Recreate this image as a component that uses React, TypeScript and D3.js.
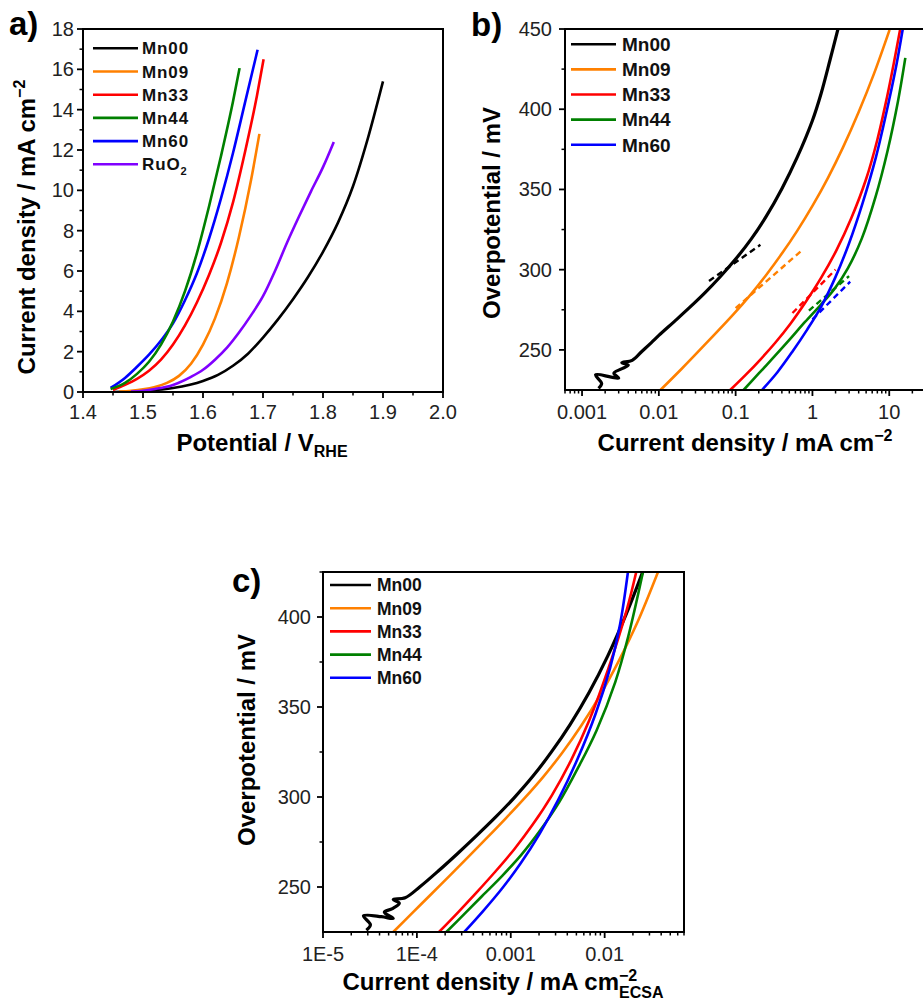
import React from 'react';
import * as d3 from 'd3';

type Pt = [number, number];

// ---------- Panel a: LSV curves (potential / V_RHE, current density / mA cm^-2)
const lsvMn00: Pt[] = [[1.45,0],[1.50,0.05],[1.55,0.2],[1.60,0.55],[1.625,0.85],[1.65,1.3],[1.675,1.9],[1.70,2.7],[1.725,3.6],[1.75,4.6],[1.775,5.7],[1.80,6.95],[1.825,8.4],[1.85,10.2],[1.875,12.6],[1.90,15.4]];
const lsvMn09: Pt[] = [[1.46,0.02],[1.48,0.06],[1.50,0.13],[1.52,0.25],[1.54,0.45],[1.56,0.8],[1.58,1.4],[1.60,2.35],[1.62,3.65],[1.64,5.4],[1.66,7.7],[1.68,10.5],[1.694,12.8]];
const lsvMn33: Pt[] = [[1.45,0.1],[1.47,0.35],[1.49,0.65],[1.51,1.05],[1.53,1.6],[1.55,2.35],[1.57,3.3],[1.59,4.45],[1.61,5.8],[1.63,7.4],[1.65,9.4],[1.67,11.9],[1.69,14.7],[1.701,16.5]];
const lsvMn44: Pt[] = [[1.446,0.15],[1.47,0.45],[1.49,0.9],[1.51,1.5],[1.53,2.35],[1.55,3.5],[1.57,5.0],[1.59,6.9],[1.61,9.2],[1.63,11.7],[1.65,14.4],[1.661,16.06]];
const lsvMn60: Pt[] = [[1.446,0.2],[1.47,0.7],[1.49,1.25],[1.51,1.85],[1.53,2.55],[1.55,3.4],[1.57,4.55],[1.59,5.9],[1.61,7.6],[1.63,9.6],[1.65,11.85],[1.67,14.35],[1.691,16.97]];
const lsvRuO2: Pt[] = [[1.48,0.02],[1.50,0.06],[1.52,0.15],[1.55,0.35],[1.58,0.75],[1.60,1.1],[1.62,1.6],[1.64,2.2],[1.66,2.95],[1.68,3.8],[1.70,4.75],[1.72,6.0],[1.74,7.4],[1.76,8.7],[1.78,9.95],[1.80,11.15],[1.818,12.4]];

// ---------- Panel b: Tafel plots (current density / mA cm^-2, overpotential / mV)
const tafelMn00: Pt[] = [[0.00164,226],[0.0018,229],[0.0015,234.5],[0.0024,233],[0.003,232.5],[0.0026,235.5],[0.0032,238],[0.004,240.5],[0.0033,242],[0.0045,243.5],[0.006,249],[0.008,254.5],[0.01,259],[0.016,267.8],[0.025,276.3],[0.04,285.7],[0.063,295.6],[0.1,306.6],[0.16,319.2],[0.25,333.2],[0.4,350.5],[0.63,369.8],[1.0,393],[1.3,410],[1.7,431],[2.15,450]];
const tafelMn09: Pt[] = [[0.0105,225],[0.02,238.4],[0.04,253.4],[0.094,272.3],[0.15,283.4],[0.25,296.7],[0.4,310],[0.63,324],[1.0,339.7],[1.6,357.4],[2.5,376.2],[4.0,398.3],[6.3,421.9],[10.1,449.5]];
const tafelMn33: Pt[] = [[0.085,225],[0.135,234.4],[0.21,244],[0.33,254.6],[0.52,266.5],[0.82,280],[1.3,295],[2.05,312],[3.2,332],[5.0,356.5],[7.0,381],[9.35,407.5],[11.5,429],[13.9,450]];
const tafelMn44: Pt[] = [[0.127,225],[0.2,235.3],[0.32,245.9],[0.5,256.2],[0.8,267.4],[1.25,277.5],[1.9,287.5],[2.9,301],[4.4,319.5],[6.6,345],[9.5,374],[13,405],[16.2,432]];
const tafelMn60: Pt[] = [[0.22,225],[0.35,236.1],[0.55,249],[0.85,262.5],[1.3,277],[2.0,295.5],[3.0,316.5],[4.5,341.5],[6.7,370],[10,406],[12.5,428.5],[15,450]];
// Tafel fits (dashed)
const fitMn00: Pt[] = [[0.045,293],[0.21,315.5]];
const fitMn09: Pt[] = [[0.1,276],[0.7,311.3]];
const fitMn33: Pt[] = [[0.55,273],[2.0,300]];
const fitMn44: Pt[] = [[0.9,274.5],[3.0,296]];
const fitMn60: Pt[] = [[1.0,269],[3.1,292.5]];

// ---------- Panel c: ECSA-normalised Tafel (current density / mA cm^-2_ECSA, overpotential / mV)
const ecsaMn00: Pt[] = [[2.9e-5,226],[3.2e-5,229],[2.7e-5,234],[4.2e-5,233.5],[5.6e-5,232.5],[4.5e-5,236],[5.5e-5,238],[6.5e-5,241],[5.6e-5,243],[7.5e-5,244],[1.07e-4,250],[1.7e-4,259],[2.7e-4,268.5],[4.3e-4,278.4],[6.8e-4,288.5],[1.08e-3,299.4],[1.7e-3,311.2],[2.7e-3,324.9],[4.3e-3,340.4],[6.8e-3,357.9],[0.0108,378.4],[0.0171,402],[0.0256,425.5]];
const ecsaMn09: Pt[] = [[5.6e-5,225],[8.9e-5,235.5],[1.4e-4,245.7],[2.24e-4,256.3],[3.55e-4,266.9],[5.6e-4,277.4],[8.9e-4,288.3],[1.41e-3,299.5],[2.24e-3,311.5],[3.55e-3,324.7],[5.6e-3,339.4],[8.9e-3,356.3],[0.0141,375.5],[0.0224,397.2],[0.037,425]];
const ecsaMn33: Pt[] = [[1.72e-4,225],[2.73e-4,235.8],[4.33e-4,247],[6.86e-4,258.6],[1.09e-3,271],[1.72e-3,284.8],[2.73e-3,300.8],[4.33e-3,319.8],[6.86e-3,342.6],[0.0109,371],[0.0172,404],[0.0217,425]];
const ecsaMn44: Pt[] = [[2.06e-4,225],[3.27e-4,235.5],[5.18e-4,246],[8.2e-4,256.5],[1.3e-3,268],[2.06e-3,281.5],[3.27e-3,297],[5.18e-3,316],[8.2e-3,337],[0.013,364],[0.0178,389],[0.0256,425]];
const ecsaMn60: Pt[] = [[3.2e-4,225],[5.07e-4,236.6],[8.03e-4,249],[1.27e-3,263],[2.02e-3,279.4],[3.2e-3,298.4],[5.07e-3,320.4],[8.03e-3,346.4],[0.0114,371.5],[0.0146,396],[0.0177,425]];

// ---------- names, colours, ticks
const sampleNames = ['Mn00', 'Mn09', 'Mn33', 'Mn44', 'Mn60'];
const colorOf: Record<string, string> = {
  Mn00: '#000000', Mn09: '#FF8000', Mn33: '#FF0000', Mn44: '#008000', Mn60: '#0000FF', RuO2: '#8000FF',
};
const aTicksX = [1.4, 1.5, 1.6, 1.7, 1.8, 1.9, 2.0];
const aTickLabelsX = ['1.4', '1.5', '1.6', '1.7', '1.8', '1.9', '2.0'];
const aMinorX = [1.45, 1.55, 1.65, 1.75, 1.85, 1.95];
const aTicksY = [0, 2, 4, 6, 8, 10, 12, 14, 16, 18];
const aMinorY = [1, 3, 5, 7, 9, 11, 13, 15, 17];
const bTicksX = [0.001, 0.01, 0.1, 1, 10];
const bTickLabelsX = ['0.001', '0.01', '0.1', '1', '10'];
const bTicksY = [250, 300, 350, 400, 450];
const bMinorY = [275, 325, 375, 425];
const cTicksX = [1e-5, 1e-4, 1e-3, 1e-2];
const cTickLabelsX = ['1E-5', '1E-4', '0.001', '0.01'];
const cTicksY = [250, 300, 350, 400];
const cMinorY = [275, 325, 375, 425];

const FONT = '"Liberation Sans", Arial, Helvetica, sans-serif';
const TICK_FS = 20;

function logMinors(d: [number, number]): number[] {
  const out: number[] = [];
  for (let e = Math.floor(Math.log10(d[0])); e <= Math.ceil(Math.log10(d[1])); e++) {
    for (let m = 2; m < 10; m++) {
      const v = m * Math.pow(10, e);
      if (v >= d[0] && v <= d[1]) out.push(v);
    }
  }
  return out;
}

type Scale = (v: number) => number;

function XAxis({ x, yPos, majors, labels, minors, labelY }: { x: Scale; yPos: number; majors: number[]; labels: string[]; minors: number[]; labelY: number }) {
  return (
    <g>
      {majors.map((v, i) => (
        <g key={'M' + i}>
          <line x1={x(v)} x2={x(v)} y1={yPos} y2={yPos + 6} stroke="#000" strokeWidth={1.8} />
          <text x={x(v)} y={labelY} textAnchor="middle" fontSize={TICK_FS} fill="#222">{labels[i]}</text>
        </g>
      ))}
      {minors.map((v, i) => (
        <line key={'m' + i} x1={x(v)} x2={x(v)} y1={yPos} y2={yPos + 3.5} stroke="#000" strokeWidth={1.5} />
      ))}
    </g>
  );
}

function YAxis({ y, xPos, majors, minors, labelX }: { y: Scale; xPos: number; majors: number[]; minors: number[]; labelX: number }) {
  return (
    <g>
      {majors.map((v, i) => (
        <g key={'M' + i}>
          <line x1={xPos - 6} x2={xPos} y1={y(v)} y2={y(v)} stroke="#000" strokeWidth={1.8} />
          <text x={labelX} y={y(v) + 7} textAnchor="end" fontSize={TICK_FS} fill="#222">{String(v)}</text>
        </g>
      ))}
      {minors.map((v, i) => (
        <line key={'m' + i} x1={xPos - 3.5} x2={xPos} y1={y(v)} y2={y(v)} stroke="#000" strokeWidth={1.5} />
      ))}
    </g>
  );
}

function Legend({ names, x1, x2, tx, y0, dy, fs, ls }: { names: string[]; x1: number; x2: number; tx: number; y0: number; dy: number; fs: number; ls: number }) {
  return (
    <g>
      {names.map((n, i) => {
        const yy = y0 + i * dy;
        return (
          <g key={n}>
            <line x1={x1} x2={x2} y1={yy} y2={yy} stroke={colorOf[n]} strokeWidth={2.6} />
            <text x={tx} y={yy + fs * 0.36} fontSize={fs} fontWeight="bold" letterSpacing={ls} fill="#111">
              {n === 'RuO2' ? (<>RuO<tspan fontSize={fs * 0.65} dy={5}>2</tspan></>) : n}
            </text>
          </g>
        );
      })}
    </g>
  );
}

export default function App() {
  // scales
  const xa = d3.scaleLinear().domain([1.4, 2.0]).range([83, 443]);
  const ya = d3.scaleLinear().domain([0, 18]).range([392, 29]);
  const bDom: [number, number] = [0.0006, 50];
  const xb = d3.scaleLog().domain(bDom).range([565, 565 + 76.8 * Math.log10(bDom[1] / bDom[0])]);
  const yb = d3.scaleLinear().domain([225, 450]).range([390, 29]);
  const cDom: [number, number] = [1e-5, 0.07];
  const xc = d3.scaleLog().domain(cDom).range([323, 684]);
  const yc = d3.scaleLinear().domain([225, 425]).range([932, 572]);

  const mk = (x: Scale, y: Scale, curve: d3.CurveFactory) =>
    d3.line<Pt>().x(d => x(d[0])).y(d => y(d[1])).curve(curve);

  const smooth = d3.curveCatmullRom.alpha(0.5);
  const la = mk(xa, ya, d3.curveMonotoneX);
  const lbS = mk(xb, yb, smooth);
  const lbL = mk(xb, yb, d3.curveLinear);
  const lcS = mk(xc, yc, smooth);

  const aSeries: [string, Pt[]][] = [
    ['Mn00', lsvMn00], ['Mn09', lsvMn09], ['RuO2', lsvRuO2], ['Mn33', lsvMn33], ['Mn60', lsvMn60], ['Mn44', lsvMn44],
  ];
  const bSeries: [string, Pt[]][] = [
    ['Mn09', tafelMn09], ['Mn33', tafelMn33], ['Mn44', tafelMn44], ['Mn60', tafelMn60],
  ];
  const bFits: [string, Pt[]][] = [
    ['Mn00', fitMn00], ['Mn09', fitMn09], ['Mn33', fitMn33], ['Mn44', fitMn44], ['Mn60', fitMn60],
  ];
  const cSeries: [string, Pt[]][] = [
    ['Mn09', ecsaMn09], ['Mn33', ecsaMn33], ['Mn44', ecsaMn44], ['Mn60', ecsaMn60],
  ];

  return (
    <svg width={923} height={1005} viewBox="0 0 923 1005"
      style={{ position: 'absolute', left: 0, top: 0, background: '#fff' }}
      fontFamily={FONT}>
      <defs>
        <clipPath id="clipA"><rect x={83} y={29} width={360} height={363} /></clipPath>
        <clipPath id="clipB"><rect x={565} y={29} width={380} height={361} /></clipPath>
        <clipPath id="clipC"><rect x={323} y={572} width={361} height={360} /></clipPath>
      </defs>

      {/* ================= Panel a ================= */}
      <text x={9} y={35} fontSize={33} fontWeight="bold">a)</text>
      <g clipPath="url(#clipA)">
        {aSeries.map(([n, d]) => (
          <path key={n} d={la(d) || ''} fill="none" stroke={colorOf[n]} strokeWidth={2.6} />
        ))}
      </g>
      <rect x={83} y={29} width={360} height={363} fill="none" stroke="#000" strokeWidth={2} />
      <XAxis x={xa} yPos={392} majors={aTicksX} labels={aTickLabelsX} minors={aMinorX} labelY={419} />
      <YAxis y={ya} xPos={83} majors={aTicksY} minors={aMinorY} labelX={74} />
      <Legend names={[...sampleNames, 'RuO2']} x1={93} x2={138} tx={142} y0={48.3} dy={23.2} fs={17} ls={0.9} />
      <text x={262} y={451} textAnchor="middle" fontSize={24} fontWeight="bold">
        Potential / V<tspan fontSize={16} dy={6}>RHE</tspan>
      </text>
      <text transform="translate(35,227) rotate(-90)" textAnchor="middle" fontSize={24} fontWeight="bold">
        Current density / mA cm<tspan fontSize={16} dy={-10}>−2</tspan>
      </text>

      {/* ================= Panel b ================= */}
      <text x={471} y={36} fontSize={33} fontWeight="bold">b)</text>
      <g clipPath="url(#clipB)">
        {bFits.map(([n, d]) => (
          <path key={'f' + n} d={lbL(d) || ''} fill="none" stroke={colorOf[n]} strokeWidth={2.4} strokeDasharray="6 4" />
        ))}
        <path d={lbS(tafelMn00) || ''} fill="none" stroke={colorOf.Mn00} strokeWidth={3.2} strokeLinejoin="round" />
        {bSeries.map(([n, d]) => (
          <path key={n} d={lbS(d) || ''} fill="none" stroke={colorOf[n]} strokeWidth={2.6} />
        ))}
      </g>
      <rect x={565} y={29} width={380} height={361} fill="none" stroke="#000" strokeWidth={2} />
      <XAxis x={xb} yPos={390} majors={bTicksX} labels={bTickLabelsX} minors={logMinors(bDom)} labelY={419} />
      <YAxis y={yb} xPos={565} majors={bTicksY} minors={bMinorY} labelX={552} />
      <Legend names={sampleNames} x1={571} x2={616} tx={622} y0={44.3} dy={25.1} fs={19} ls={0} />
      <text x={745} y={451} textAnchor="middle" fontSize={24} fontWeight="bold">
        Current density / mA cm<tspan fontSize={16} dy={-10}>−2</tspan>
      </text>
      <text transform="translate(500,213) rotate(-90)" textAnchor="middle" fontSize={24} fontWeight="bold">
        Overpotential / mV
      </text>

      {/* ================= Panel c ================= */}
      <text x={232} y={592} fontSize={33} fontWeight="bold">c)</text>
      <g clipPath="url(#clipC)">
        <path d={lcS(ecsaMn00) || ''} fill="none" stroke={colorOf.Mn00} strokeWidth={3.2} strokeLinejoin="round" />
        {cSeries.map(([n, d]) => (
          <path key={n} d={lcS(d) || ''} fill="none" stroke={colorOf[n]} strokeWidth={2.6} />
        ))}
      </g>
      <rect x={323} y={572} width={361} height={360} fill="none" stroke="#000" strokeWidth={2} />
      <XAxis x={xc} yPos={932} majors={cTicksX} labels={cTickLabelsX} minors={logMinors(cDom)} labelY={961} />
      <YAxis y={yc} xPos={323} majors={cTicksY} minors={cMinorY} labelX={311} />
      <Legend names={sampleNames} x1={330} x2={371} tx={377} y0={585} dy={23.2} fs={17.5} ls={0} />
      <text x={503} y={990} textAnchor="middle" fontSize={24} fontWeight="bold">
        Current density / mA cm<tspan fontSize={16} dy={-9}>−2</tspan><tspan fontSize={16} dx={-18.2} dy={17}>ECSA</tspan>
      </text>
      <text transform="translate(255,740) rotate(-90)" textAnchor="middle" fontSize={24} fontWeight="bold">
        Overpotential / mV
      </text>
    </svg>
  );
}
